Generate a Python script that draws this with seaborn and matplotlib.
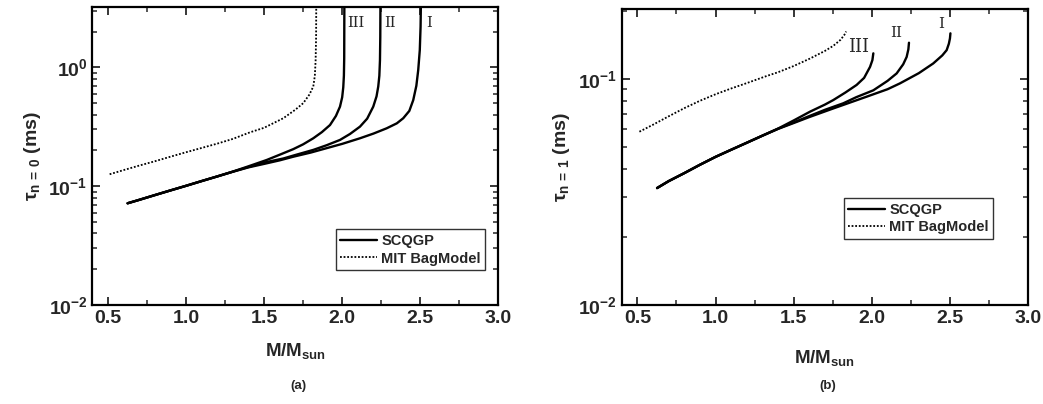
import numpy as np
import pandas as pd
import matplotlib
matplotlib.use("Agg")
import matplotlib.pyplot as plt
import matplotlib.ticker as mticker
import seaborn as sns

# ---- panel (a): tau_{n=0} (ms) vs M/Msun ----
a_I_M = [0.626, 0.7, 0.8, 0.9, 1.0, 1.1, 1.2, 1.3, 1.4, 1.5, 1.6, 1.687, 1.8, 1.901, 2.0, 2.114,
         2.2, 2.285, 2.35, 2.391, 2.43, 2.455, 2.475, 2.487, 2.497, 2.502, 2.504]
a_I_tau = [0.0718, 0.0767, 0.0841, 0.0921, 0.1007, 0.1104, 0.1208, 0.1323, 0.144, 0.154, 0.165,
           0.177, 0.192, 0.209, 0.227, 0.253, 0.277, 0.307, 0.338, 0.373, 0.43, 0.53, 0.70, 0.95,
           1.4, 2.2, 3.4]
a_II_M = [0.626, 0.7, 0.8, 0.9, 1.0, 1.1, 1.2, 1.3, 1.4, 1.5, 1.623, 1.7, 1.815, 1.9, 1.986, 2.05,
          2.114, 2.16, 2.199, 2.22, 2.231, 2.238, 2.242, 2.244, 2.245]
a_II_tau = [0.0718, 0.0767, 0.0841, 0.0921, 0.1007, 0.1104, 0.1208, 0.1325, 0.145, 0.158, 0.171,
            0.183, 0.202, 0.221, 0.245, 0.275, 0.317, 0.37, 0.467, 0.57, 0.69, 0.85, 1.15, 1.8, 3.4]
a_III_M = [0.626, 0.7, 0.8, 0.9, 1.0, 1.1, 1.2, 1.3, 1.4, 1.516, 1.6, 1.687, 1.75, 1.815, 1.87,
           1.922, 1.96, 1.986, 2.0, 2.007, 2.011, 2.013, 2.014]
a_III_tau = [0.0718, 0.0767, 0.0841, 0.0921, 0.1007, 0.1104, 0.1208, 0.1327, 0.147, 0.166, 0.184,
             0.205, 0.225, 0.253, 0.285, 0.327, 0.39, 0.467, 0.56, 0.68, 0.85, 1.2, 3.4]
a_mit_M = [0.511, 0.6, 0.7, 0.8, 0.9, 1.0, 1.09, 1.2, 1.3, 1.41, 1.5, 1.623, 1.7, 1.751, 1.79,
           1.815, 1.825, 1.83, 1.833, 1.834]
a_mit_tau = [0.126, 0.1365, 0.149, 0.162, 0.177, 0.193, 0.208, 0.228, 0.25, 0.284, 0.31, 0.373,
             0.44, 0.50, 0.59, 0.69, 0.85, 1.15, 1.8, 3.4]

# ---- panel (b): tau_{n=1} (ms) vs M/Msun ----
b_I_M = [0.626, 0.7, 0.8, 0.9, 1.0, 1.1, 1.2, 1.3, 1.4, 1.5, 1.6, 1.753, 1.966, 2.1, 2.179, 2.3,
         2.392, 2.45, 2.478, 2.492, 2.499, 2.502]
b_I_tau = [0.0329, 0.0353, 0.0383, 0.0417, 0.0452, 0.0486, 0.0522, 0.0561, 0.0601, 0.0638, 0.0678,
           0.074, 0.0834, 0.090, 0.0955, 0.106, 0.117, 0.127, 0.134, 0.143, 0.151, 0.159]
b_II_M = [0.626, 0.7, 0.8, 0.9, 1.0, 1.1, 1.2, 1.3, 1.4, 1.5, 1.6, 1.7, 1.817, 1.9, 2.009, 2.1,
          2.158, 2.2, 2.222, 2.233, 2.237]
b_II_tau = [0.0329, 0.0353, 0.0383, 0.0417, 0.0452, 0.0486, 0.0522, 0.0561, 0.0602, 0.0642, 0.0685,
            0.073, 0.078, 0.083, 0.089, 0.098, 0.1057, 0.116, 0.125, 0.135, 0.1445]
b_III_M = [0.626, 0.7, 0.8, 0.9, 1.0, 1.1, 1.2, 1.3, 1.4, 1.5, 1.604, 1.7, 1.753, 1.83, 1.902,
           1.95, 1.988, 2.003, 2.009]
b_III_tau = [0.0329, 0.0353, 0.0383, 0.0417, 0.0452, 0.0486, 0.0522, 0.0561, 0.0603, 0.0655, 0.0716,
             0.077, 0.0806, 0.087, 0.094, 0.101, 0.113, 0.121, 0.1297]
b_mit_M = [0.513, 0.6, 0.7, 0.8, 0.9, 1.0, 1.1, 1.2, 1.327, 1.4, 1.5, 1.604, 1.7, 1.753, 1.8,
           1.828, 1.835]
b_mit_tau = [0.0584, 0.0627, 0.0683, 0.0742, 0.080, 0.0855, 0.0907, 0.0958, 0.103, 0.107, 0.114,
             0.123, 0.133, 0.140, 0.149, 0.158, 0.162]

curve_names = ["I", "II", "III"]
a_label_pos = [(2.557, 2.36), (2.305, 2.36), (2.088, 2.36)]
a_label_size = [10.5, 10.5, 10.5]
b_label_pos = [(2.44, 0.1745), (2.154, 0.159), (1.917, 0.1387)]
b_label_size = [11, 11, 13]

sns.set_style("ticks")
plt.rcParams['font.family'] = ['Liberation Sans', 'DejaVu Sans']
plt.rcParams['font.weight'] = 'bold'
plt.rcParams['mathtext.fontset'] = 'custom'
plt.rcParams['mathtext.rm'] = 'Liberation Sans:bold'
plt.rcParams['mathtext.bf'] = 'Liberation Sans:bold'
plt.rcParams['mathtext.it'] = 'Liberation Sans'


def frame(m, t, name):
    return pd.DataFrame({"M": m, "tau": t, "curve": name})


fig = plt.figure(figsize=(10.43, 4.04), dpi=100)
ax_a = fig.add_axes([0.0885, 0.245, 0.3893, 0.7369])
ax_b = fig.add_axes([0.5961, 0.245, 0.3898, 0.7319])

panels = [
    (ax_a, [(a_I_M, a_I_tau), (a_II_M, a_II_tau), (a_III_M, a_III_tau)], (a_mit_M, a_mit_tau),
     (0.01, 3.2), a_label_pos, a_label_size, r"$\mathregular{\tau_{n\,=\,0}}$ (ms)",
     (0.600, 0.118), "(a)", (298, 386), 10),
    (ax_b, [(b_I_M, b_I_tau), (b_II_M, b_II_tau), (b_III_M, b_III_tau)], (b_mit_M, b_mit_tau),
     (0.01, 0.203), b_label_pos, b_label_size, r"$\mathregular{\tau_{n\,=\,1}}$ (ms)",
     (0.547, 0.224), "(b)", (828, 386), 15),
]

for ax, scqgp, mit, yl, lpos, lsize, ylab, legpos, tag, tagxy, xpad in panels:
    for k, (m, t) in enumerate(scqgp):
        sns.lineplot(data=frame(m, t, curve_names[k]), x="M", y="tau", ax=ax, sort=False,
                     estimator=None, color="black", lw=1.7,
                     label="SCQGP" if k == 0 else None)
    sns.lineplot(data=frame(mit[0], mit[1], "MIT"), x="M", y="tau", ax=ax, sort=False,
                 estimator=None, color="black", lw=1.3, linestyle=(0, (1, 1)),
                 label="MIT BagModel")
    for name, (px, py), fs in zip(curve_names, lpos, lsize):
        ax.text(px, py, name, family="DejaVu Serif", fontweight="normal", fontsize=fs,
                ha="center", va="center")
    ax.set_yscale("log")
    ax.set_xlim(0.4, 3.0)
    ax.set_ylim(*yl)
    ax.xaxis.set_major_locator(mticker.MultipleLocator(0.5))
    ax.xaxis.set_minor_locator(mticker.MultipleLocator(0.25))
    ax.xaxis.set_major_formatter(mticker.FormatStrFormatter("%.1f"))
    ax.yaxis.set_major_locator(mticker.LogLocator(base=10))
    ax.yaxis.set_minor_locator(mticker.LogLocator(base=10, subs=np.arange(2, 10)))
    ax.yaxis.set_minor_formatter(mticker.NullFormatter())
    ax.yaxis.set_major_formatter(mticker.FuncFormatter(
        lambda v, p: r"$\mathbf{10^{%d}}$" % int(round(np.log10(v)))))
    ax.tick_params(which="both", direction="in", top=True, right=True, labelsize=14)
    ax.tick_params(which="major", length=6, width=1.3)
    ax.tick_params(which="minor", length=3.5, width=1.1)
    for s in ax.spines.values():
        s.set_linewidth(1.6)
        s.set_color("black")
    ax.set_xlabel(r"M/M$_{\mathregular{sun}}$", fontsize=13.5, fontweight="bold", labelpad=xpad)
    ax.set_ylabel(ylab, fontsize=14, fontweight="bold", labelpad=4)
    leg = ax.legend(loc="lower left", bbox_to_anchor=legpos, frameon=True, fancybox=False,
                    edgecolor="black", fontsize=10.5, handlelength=2.5, borderpad=0.3,
                    labelspacing=0.25, handletextpad=0.3, borderaxespad=0)
    leg.get_frame().set_linewidth(1.0)
    fig.text(tagxy[0] / 1043, 1 - tagxy[1] / 404, tag, ha="center", va="center", fontsize=9.5,
             fontweight="bold")

fig.savefig("out.png", dpi=100)
